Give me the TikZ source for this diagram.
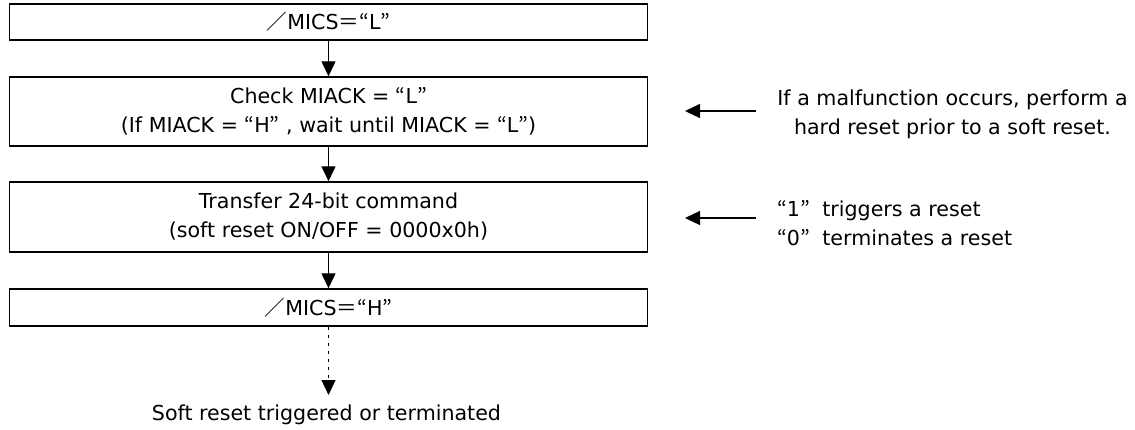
\documentclass[tikz,border=0pt]{standalone}
\usepackage{fontspec}
\setmainfont{DejaVu Sans}
\newfontfamily\cjkfont{Noto Sans CJK JP}
\newcommand{\jq}[1]{{\cjkfont “}#1{\cjkfont ”}}
\newcommand{\jsl}{{\cjkfont ／}}
\newcommand{\jeq}{{\cjkfont ＝}}
\usetikzlibrary{arrows.meta}
\begin{document}
\begin{tikzpicture}[x=1pt,y=-1pt,
  every node/.style={font=\fontsize{20.6}{29}\selectfont, inner sep=0pt},
  stepbox/.style={draw, line width=1.4pt, minimum width=638pt, align=center},
  flow/.style={line width=1.3pt, -{Triangle[length=15pt,width=14pt]}},
  dotflow/.style={line width=1.3pt, dash pattern=on 3pt off 5pt, -{Triangle[length=15pt,width=14pt]}}]
\useasboundingbox (0,0) rectangle (1135,429);
\node[stepbox, minimum height=36pt] (b1) at (328.5,22) {\jsl MICS\jeq\jq{L}};
\node[stepbox, minimum height=69pt] (b2) at (328.5,111.5) {Check MIACK = \jq{L}\\(If MIACK = \jq{H} , wait until MIACK = \jq{L})};
\node[stepbox, minimum height=70pt] (b3) at (328.5,217) {Transfer 24-bit command\\(soft reset ON/OFF = 0000x0h)};
\node[stepbox, minimum height=37pt] (b4) at (328.5,307.5) {\jsl MICS\jeq\jq{H}};
\node[anchor=base] (end) at (326.5,420) {Soft reset triggered or terminated};
\coordinate (e4) at (328.5,395);
\draw[flow] (b1) -- (b2);
\draw[flow] (b2) -- (b3);
\draw[flow] (b3) -- (b4);
\draw[dotflow] (b4.south) -- (e4);
\node[align=center, anchor=base] (n1) at (952.5,134) {If a malfunction occurs, perform a\\hard reset prior to a soft reset.};
\node[align=left, anchor=base west] (n2) at (777,245) {\jq{1}\hspace{6pt} triggers a reset\\\jq{0}\hspace{6pt} terminates a reset};
\coordinate (t1) at (756,111);
\coordinate (h1) at (685,111);
\coordinate (t2) at (756,218);
\coordinate (h2) at (685,218);
\draw[flow] (t1) -- (h1);
\draw[flow] (t2) -- (h2);
\end{tikzpicture}
\end{document}
